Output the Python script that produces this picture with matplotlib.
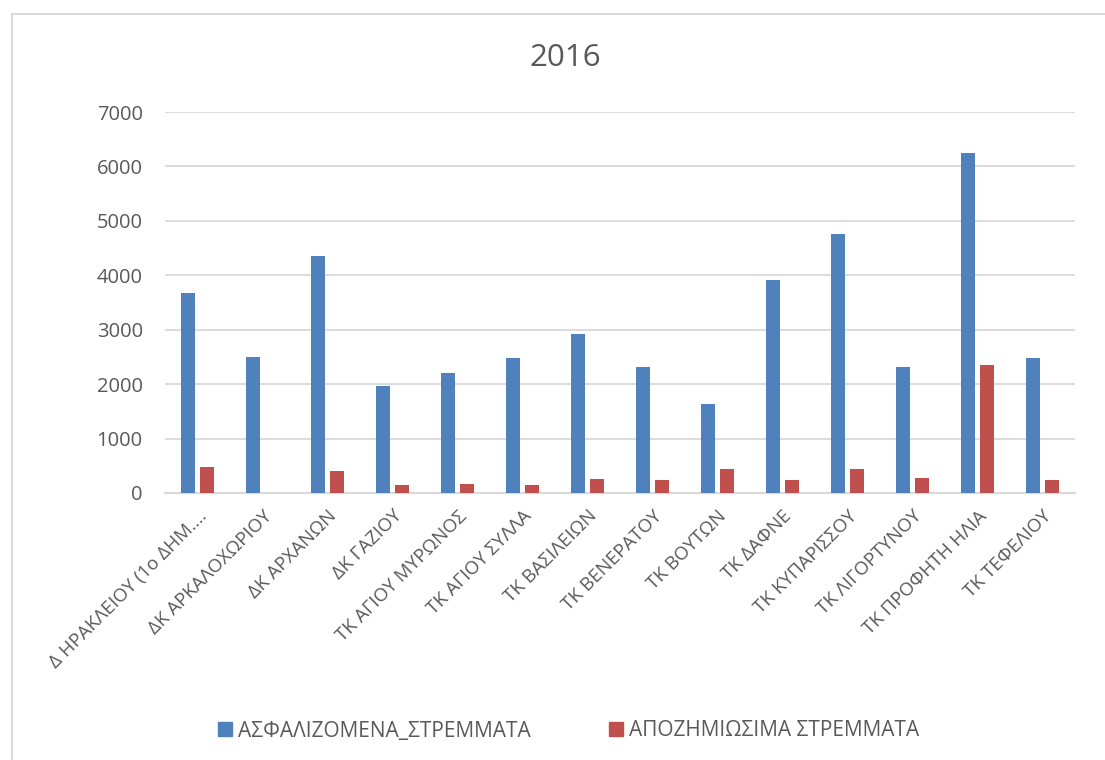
import numpy as np
import matplotlib
matplotlib.use("Agg")
from matplotlib import pyplot as plt
from matplotlib.lines import Line2D

plt.rcParams['font.family'] = ['Open Sans', 'DejaVu Sans']

categories = ["Δ ΗΡΑΚΛΕΙΟΥ (1ο ΔΗΜ....", "ΔΚ ΑΡΚΑΛΟΧΩΡΙΟΥ", "ΔΚ ΑΡΧΑΝΩΝ", "ΔΚ ΓΑΖΙΟΥ",
              "ΤΚ ΑΓΙΟΥ ΜΥΡΩΝΟΣ", "ΤΚ ΑΓΙΟΥ ΣΥΛΛΑ", "ΤΚ ΒΑΣΙΛΕΙΩΝ", "ΤΚ ΒΕΝΕΡΑΤΟΥ",
              "ΤΚ ΒΟΥΤΩΝ", "ΤΚ ΔΑΦΝΕ", "ΤΚ ΚΥΠΑΡΙΣΣΟΥ", "ΤΚ ΛΙΓΟΡΤΥΝΟΥ",
              "ΤΚ ΠΡΟΦΗΤΗ ΗΛΙΑ", "ΤΚ ΤΕΦΕΛΙΟΥ"]
insured = [3680, 2500, 4350, 1970, 2210, 2480, 2920, 2320, 1630, 3915, 4760, 2320, 6250, 2480]
compensated = [480, 5, 405, 145, 165, 140, 255, 240, 440, 240, 440, 280, 2360, 240]

series_names = ["ΑΣΦΑΛΙΖΟΜΕΝΑ_ΣΤΡΕΜΜΑΤΑ", "ΑΠΟΖΗΜΙΩΣΙΜΑ ΣΤΡΕΜΜΑΤΑ"]
colors = ["#4F81BD", "#C0504D"]
text_color = "#595959"
grid_color = "#D9D9D9"

fig = plt.figure(figsize=(11.05, 7.6), dpi=100)
ax = fig.add_axes([165 / 1105, 1 - 493 / 760, 910 / 1105, 381 / 760])

x = np.arange(len(categories))
w = 0.215
ax.bar(x - 0.147, insured, width=w, color=colors[0], zorder=3)
ax.bar(x + 0.147, compensated, width=w, color=colors[1], zorder=3)

ax.set_xlim(-0.5, len(categories) - 0.5)
ax.set_ylim(0, 7000)
ax.set_yticks(range(0, 7001, 1000))
ax.yaxis.grid(True, color=grid_color, linewidth=1.3, zorder=0)
ax.set_axisbelow(True)

for s in ["top", "right", "left"]:
    ax.spines[s].set_visible(False)
ax.spines["bottom"].set_color(grid_color)
ax.spines["bottom"].set_linewidth(1.5)

ax.tick_params(axis="y", length=0, pad=16, labelsize=14.5, labelcolor=text_color)
ax.tick_params(axis="x", length=0, pad=10, labelsize=13.5, labelcolor=text_color)
ax.set_xticks(x)
ax.set_xticklabels(categories, rotation=45, ha="right", rotation_mode="anchor")

fig.text(565 / 1105, 1 - 58 / 760, "2016", ha="center", va="center",
         fontsize=22.5, color=text_color)

handles = [Line2D([], [], marker="s", linestyle="none", markersize=9.5,
                  markerfacecolor=c, markeredgecolor=c) for c in colors]
fig.legend(handles, series_names, loc="center", bbox_to_anchor=(568 / 1105, 1 - 731 / 760),
           ncol=2, frameon=False, fontsize=15, labelcolor=text_color,
           handletextpad=0.2, columnspacing=3.7, handlelength=0.8)

# chart border (left and top edges visible)
fig.add_artist(Line2D([12 / 1105, 12 / 1105], [0, 1 - 14 / 760], color=grid_color, linewidth=1.5))
fig.add_artist(Line2D([12 / 1105, 1], [1 - 14 / 760, 1 - 14 / 760], color=grid_color, linewidth=1.5))

fig.savefig("out.png", dpi=100, facecolor="white")
